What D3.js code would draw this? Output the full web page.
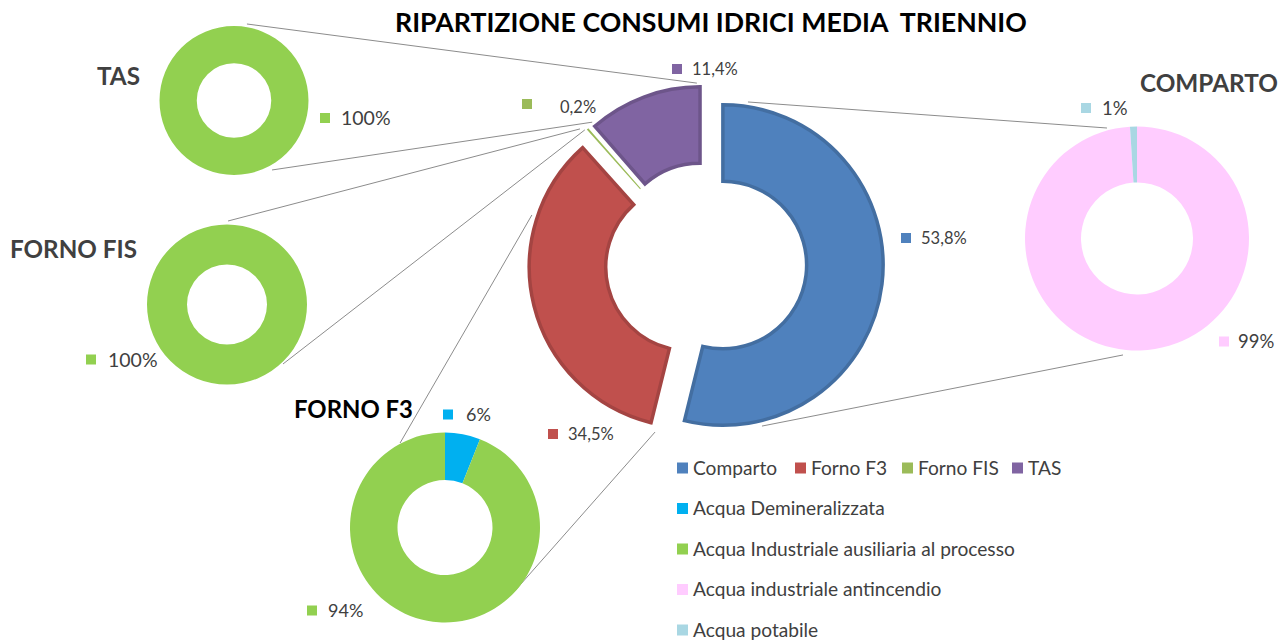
<!DOCTYPE html>
<html>
<head>
<meta charset="utf-8">
<script src="https://cdn.jsdelivr.net/npm/d3@7"></script>
<style>
  body { margin: 0; background: #fff; }
  text { font-family: Lato, "Open Sans", sans-serif; }
</style>
</head>
<body>
<svg width="1287" height="641"></svg>
<script>
// main donut : share of each area
var areas = ['Comparto', 'Forno F3', 'Forno FIS', 'TAS'];
var areaValues = [53.8, 34.5, 0.2, 11.4];
var areaLabels = ['53,8%', '34,5%', '0,2%', '11,4%'];
var areaColors = ['#4F81BD', '#C0504D', '#9BBB59', '#8064A2'];

// water types used in the small donuts
var waters = ['Acqua Demineralizzata', 'Acqua Industriale ausiliaria al processo', 'Acqua industriale antincendio', 'Acqua potabile'];
var waterColors = ['#00B0F0', '#92D050', '#FFCCFF', '#A9D7E3'];

var tasValues = [0, 100, 0, 0];
var tasLabels = ['', '100%', '', ''];
var fisValues = [0, 100, 0, 0];
var fisLabels = ['', '100%', '', ''];
var f3Values = [6, 94, 0, 0];
var f3Labels = ['6%', '94%', '', ''];
var compartoValues = [0, 0, 99, 1];
var compartoLabels = ['', '', '99%', '1%'];

var title = 'RIPARTIZIONE CONSUMI IDRICI MEDIA  TRIENNIO';

// layout (positions of the donuts, titles and the hand placed labels)
var main = {cx: 706, cy: 263, r0: 82, r1: 162, explode: 17,
  keys: [[195, -25, 20], [-158, 171, 20], [-184, -159, 38], [-34, -194, 20]]};

var minis = [
  {name: 'TAS', values: tasValues, labels: tasLabels, cx: 234, cy: 100.5, r1: 74.5, fs: 19.5,
    tx: 97, ty: 85, tw: 43, tcol: '#404040', keys: {1: [86, 17.5, 21]}},
  {name: 'FORNO FIS', values: fisValues, labels: fisLabels, cx: 227, cy: 304.5, r1: 80, fs: 19.5,
    tx: 10, ty: 258, tw: 127, tcol: '#404040', keys: {1: [-141, 55, 22]}},
  {name: 'FORNO F3', values: f3Values, labels: f3Labels, cx: 445, cy: 527.5, r1: 95, fs: 18,
    tx: 294, ty: 418, tw: 119, tcol: '#000', keys: {0: [-2, -113, 23], 1: [-138, 83, 21]}},
  {name: 'COMPARTO', values: compartoValues, labels: compartoLabels, cx: 1137, cy: 238.5, r1: 112, fs: 18.5,
    tx: 1140, ty: 92, tw: 138, tcol: '#404040', keys: {2: [82, 103, 19], 3: [-56, -130.5, 21]}}
];

// connector lines: angle/distance on the small donut -> angle/distance on a main slice
var links = [
  {mini: 0, a: 9.6, d: 77.6, slice: 3, ta: 358.9, td: 164},
  {mini: 0, a: 151.3, d: 79.2, slice: 3, ta: 319.2, td: 165},
  {mini: 1, a: 0.7, d: 83.5, slice: 2, ta: 316.6, td: 167},
  {mini: 1, a: 136.7, d: 81.7, slice: 2, ta: 317.6, td: 163},
  {mini: 2, a: 332, d: 95.7, slice: 1, ta: 288.3, td: 166},
  {mini: 2, a: 133.9, d: 94.4, slice: 1, ta: 191.8, td: 168.5},
  {mini: 3, a: 344.8, d: 114.5, slice: 0, ta: 8.75, td: 165},
  {mini: 3, a: 186.85, d: 117.3, slice: 0, ta: 166.35, td: 165.7}
];

// legend first row key positions
var legendRow1 = [677, 795, 902, 1012];

var svg = d3.select('svg');
var rad = Math.PI / 180;

function polar(cx, cy, deg, d) {
  return [cx + d * Math.sin(deg * rad), cy - d * Math.cos(deg * rad)];
}

function fitWidth(sel, w) {
  var len = sel.node().getComputedTextLength();
  var fs = parseFloat(sel.style('font-size'));
  sel.style('font-size', (fs * w / len) + 'px');
}

var pie = d3.pie().sort(null);
var mainArcs = pie(areaValues);
mainArcs.forEach(function(d) {
  var mid = (d.startAngle + d.endAngle) / 2;
  d.ox = main.cx + main.explode * Math.sin(mid);
  d.oy = main.cy - main.explode * Math.cos(mid);
  d.thin = (d.endAngle - d.startAngle) < 0.05;
});

// connectors first so the donuts sit on top
svg.append('g').selectAll('line')
  .data(links)
  .enter()
  .append('line')
  .each(function(l) {
    var m = minis[l.mini], s = mainArcs[l.slice];
    var p1 = polar(m.cx, m.cy, l.a, l.d);
    var p2 = polar(s.ox, s.oy, l.ta, l.td);
    d3.select(this).attr('x1', p1[0]).attr('y1', p1[1]).attr('x2', p2[0]).attr('y2', p2[1]);
  })
  .style('stroke', '#8c8c8c')
  .style('stroke-width', 1);

// main exploded donut
var mainArc = d3.arc().innerRadius(main.r0 + 1.75).outerRadius(main.r1 - 1.75);
var thinArc = d3.arc().innerRadius(main.r0).outerRadius(main.r1);
svg.append('g').selectAll('path')
  .data(mainArcs)
  .enter()
  .append('path')
  .attr('transform', function(d) { return 'translate(' + d.ox + ',' + d.oy + ')'; })
  .attr('d', function(d) { return d.thin ? thinArc(d) : mainArc(d); })
  .style('fill', function(d, i) { return areaColors[i]; })
  .style('stroke', function(d, i) { return d3.color(areaColors[i]).darker(0.45); })
  .style('stroke-width', function(d) { return d.thin ? 0 : 3.5; })
  .style('stroke-linejoin', 'miter');

function keyLabel(g, x, y, gap, color, label, size) {
  g.append('rect').attr('x', x).attr('y', y - 5).attr('width', 10).attr('height', 10).style('fill', color);
  return g.append('text').attr('x', x + gap).attr('y', y).attr('dy', '0.36em')
    .style('font-size', size + 'px').style('fill', '#404040').text(label);
}

var mainKeys = svg.append('g');
areaLabels.forEach(function(lab, i) {
  var k = main.keys[i];
  var t = keyLabel(mainKeys, main.cx + k[0], main.cy + k[1], k[2], areaColors[i], lab, 16.5);
  // the 0,2% text sits a little lower than its key in the original
  if (i == 2) t.attr('dy', '0.55em');
});

// small donuts
minis.forEach(function(m) {
  var g = svg.append('g');
  var arc = d3.arc().innerRadius(m.r1 * 0.5).outerRadius(m.r1);
  g.selectAll('path')
    .data(pie(m.values))
    .enter()
    .append('path')
    .attr('transform', 'translate(' + m.cx + ',' + m.cy + ')')
    .attr('d', arc)
    .style('fill', function(d, i) { return waterColors[i]; });
  m.labels.forEach(function(lab, i) {
    if (!lab) return;
    var k = m.keys[i];
    keyLabel(g, m.cx + k[0], m.cy + k[1], k[2], waterColors[i], lab, m.fs);
  });
  var t = g.append('text')
    .attr('x', m.tx).attr('y', m.ty)
    .style('font-weight', 'bold').style('font-size', '24px')
    .style('fill', m.tcol)
    .text(m.name);
  fitWidth(t, m.tw);
});

// main title
var tt = svg.append('text')
  .attr('x', 395).attr('y', 32)
  .style('font-weight', 'bold').style('font-size', '24px')
  .style('white-space', 'pre')
  .style('fill', '#000')
  .text(title);
fitWidth(tt, 632);

// legend
var legend = svg.append('g');
var row0 = 468;
var probe = legend.append('text').style('font-size', '18px').text(waters[1]);
fitWidth(probe, 322);
var lfs = probe.style('font-size');
probe.remove();

areas.forEach(function(a, i) {
  var x = legendRow1[i];
  legend.append('rect').attr('x', x).attr('y', row0 - 5.5).attr('width', 11).attr('height', 11).style('fill', areaColors[i]);
  legend.append('text').attr('x', x + 16).attr('y', row0).attr('dy', '0.36em')
    .style('font-size', lfs).style('fill', '#404040').text(a);
});

waters.forEach(function(w, i) {
  var y = row0 + 40.5 * (i + 1);
  legend.append('rect').attr('x', 677).attr('y', y - 5.5).attr('width', 11).attr('height', 11).style('fill', waterColors[i]);
  legend.append('text').attr('x', 693).attr('y', y).attr('dy', '0.36em')
    .style('font-size', lfs).style('fill', '#404040').text(w);
});
</script>
</body>
</html>
